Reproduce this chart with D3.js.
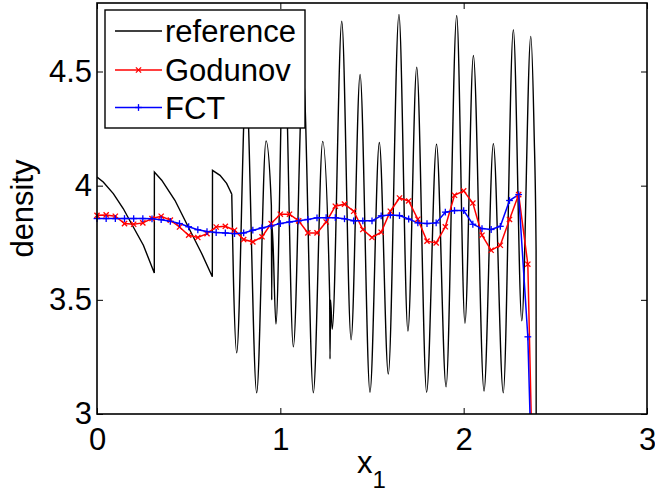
<!DOCTYPE html>
<html>
<head>
<meta charset="utf-8">
<script src="https://cdn.jsdelivr.net/npm/d3@7"></script>
<style>
  body { margin: 0; background: #fff; }
  svg { display: block; font-family: "Liberation Sans", Arial, Helvetica, sans-serif; }
</style>
</head>
<body>
<div id="chart"></div>
<script>
// sample positions of the two schemes (dx = 0.05)
const sampleX = [0, 0.05, 0.1, 0.15, 0.2, 0.25, 0.3, 0.35, 0.4, 0.45, 0.5, 0.55, 0.6, 0.65,
  0.7, 0.75, 0.8, 0.85, 0.9, 0.95, 1, 1.05, 1.1, 1.15, 1.2, 1.25, 1.3, 1.35, 1.4, 1.45,
  1.5, 1.55, 1.6, 1.65, 1.7, 1.75, 1.8, 1.85, 1.9, 1.95, 2, 2.05, 2.1, 2.15, 2.2, 2.25,
  2.3, 2.35, 2.4];

const godunov = [3.870, 3.872, 3.866, 3.834, 3.831, 3.837, 3.856, 3.866, 3.849, 3.819,
  3.783, 3.773, 3.790, 3.819, 3.822, 3.805, 3.764, 3.754, 3.776, 3.834,
  3.875, 3.875, 3.846, 3.793, 3.793, 3.841, 3.910, 3.919, 3.888, 3.808,
  3.773, 3.796, 3.888, 3.946, 3.933, 3.853, 3.757, 3.749, 3.820, 3.958,
  3.977, 3.924, 3.783, 3.717, 3.739, 3.852, 3.961, 3.656, 1.85];

const fct = [3.856, 3.856, 3.856, 3.856, 3.856, 3.856, 3.855, 3.851, 3.844, 3.834,
  3.820, 3.807, 3.799, 3.795, 3.793, 3.790, 3.793, 3.805, 3.815, 3.824,
  3.834, 3.841, 3.846, 3.852, 3.859, 3.860, 3.860, 3.855, 3.846, 3.846,
  3.846, 3.868, 3.871, 3.869, 3.854, 3.837, 3.834, 3.837, 3.884, 3.891,
  3.891, 3.831, 3.812, 3.808, 3.822, 3.935, 3.961, 3.338, 1.9];

// reference solution: saw-tooth part (straight pieces) ...
const refSaw = [
  [0, 4.038], [0.034, 4.016], [0.089, 3.965], [0.143, 3.900], [0.198, 3.819],
  [0.253, 3.739], [0.3125, 3.618],
  [0.313, 4.060], [0.353, 4.024], [0.425, 3.936], [0.498, 3.819], [0.571, 3.703],
  [0.629, 3.601],
  [0.630, 4.067], [0.671, 4.045], [0.707, 4.010], [0.725, 3.980], [0.735, 3.963]
];

// ... and its oscillating part (extrema, smoothed by the curve)
const refWave = [
  [0.735, 3.963], [0.744, 3.60], [0.762, 3.268], [0.813, 4.45], [0.871, 3.093],
  [0.922, 4.196], [0.951, 3.914], [0.953, 3.499], [0.955, 3.827], [0.976, 3.394],
  [1.020, 4.70], [1.071, 3.294], [1.124, 4.50], [1.180, 3.093], [1.231, 4.194],
  [1.269, 3.521], [1.271, 3.241], [1.274, 3.499], [1.283, 3.371], [1.335, 4.720],
  [1.386, 3.325], [1.435, 4.487], [1.489, 3.095], [1.540, 4.189], [1.589, 3.175],
  [1.647, 4.750], [1.696, 3.363], [1.744, 4.519], [1.798, 3.095], [1.852, 4.182],
  [1.904, 3.119], [1.962, 4.745], [2.007, 3.397], [2.053, 4.570], [2.111, 3.100],
  [2.162, 4.184], [2.216, 3.093], [2.271, 4.683], [2.317, 3.408], [2.366, 4.654],
  [2.384, 4.242], [2.395, 3.717], [2.396, 2.19]
];

const xTicks = [0, 1, 2, 3];
const yTicks = [3, 3.5, 4, 4.5];
const legendItems = ['reference', 'Godunov', 'FCT'];

const width = 655;
const height = 493;
const fontSize = 31;

const x = d3.scaleLinear().domain([0, 3]).range([97, 647]);
const y = d3.scaleLinear().domain([3, 4.8]).range([414, 3]);

const svg = d3.select('#chart').append('svg')
  .attr('width', width)
  .attr('height', height);

svg.append('defs').append('clipPath').attr('id', 'plot-clip')
  .append('rect')
  .attr('x', x(0)).attr('y', y(4.8))
  .attr('width', x(3) - x(0)).attr('height', y(3) - y(4.8));

const plot = svg.append('g').attr('clip-path', 'url(#plot-clip)');

const line = d3.line().x(d => x(d[0])).y(d => y(d[1]));

plot.append('path')
  .attr('d', line.curve(d3.curveLinear)(refSaw))
  .attr('fill', 'none').attr('stroke', '#000').attr('stroke-width', 1.4);

plot.append('path')
  .attr('d', line.curve(d3.curveMonotoneX)(refWave))
  .attr('fill', 'none').attr('stroke', '#000').attr('stroke-width', 1.4);

const inView = d => d[1] >= 3 && d[1] <= 4.8;

// draws a marker ('x' or '+') centered on cx, cy
const marker = (g, cx, cy, type, color) => {
  const s = type === 'x' ? 2.6 : 3.4;
  const segs = type === 'x'
    ? [[-s, -s, s, s], [-s, s, s, -s]]
    : [[-s, 0, s, 0], [0, -s, 0, s]];
  segs.forEach(q => {
    g.append('line')
      .attr('x1', cx + q[0]).attr('y1', cy + q[1])
      .attr('x2', cx + q[2]).attr('y2', cy + q[3])
      .attr('stroke', color).attr('stroke-width', 1.3);
  });
};

const series = [
  { values: godunov, color: '#ff0000', type: 'x' },
  { values: fct, color: '#0000ff', type: '+' },
];

series.forEach(s => {
  const pts = sampleX.map((v, i) => [v, s.values[i]]);
  plot.append('path')
    .attr('d', line.curve(d3.curveLinear)(pts))
    .attr('fill', 'none').attr('stroke', s.color).attr('stroke-width', 1.5);
  const mg = svg.append('g');
  pts.filter(inView).forEach(d => marker(mg, x(d[0]), y(d[1]), s.type, s.color));
});

// axes, ticks point inward on all four sides
const styleAxis = g => {
  g.select('.domain').remove();
  g.selectAll('.tick line').attr('stroke', '#000').attr('stroke-width', 1);
  g.selectAll('text')
    .attr('font-size', fontSize)
    .attr('font-family', '"Liberation Sans", Arial, Helvetica, sans-serif')
    .attr('fill', '#000');
};

svg.append('g').attr('transform', `translate(0,${y(3)})`)
  .call(d3.axisBottom(x).tickValues(xTicks).tickSize(-6).tickPadding(14).tickFormat(d => d))
  .call(styleAxis);

svg.append('g').attr('transform', `translate(0,${y(4.8)})`)
  .call(d3.axisTop(x).tickValues(xTicks).tickSize(-6).tickFormat(''))
  .call(styleAxis);

svg.append('g').attr('transform', `translate(${x(0)},0)`)
  .call(d3.axisLeft(y).tickValues(yTicks).tickSize(-6).tickPadding(5).tickFormat(d => d))
  .call(styleAxis);

svg.append('g').attr('transform', `translate(${x(3)},0)`)
  .call(d3.axisRight(y).tickValues(yTicks).tickSize(-6).tickFormat(''))
  .call(styleAxis);

svg.append('rect')
  .attr('x', x(0)).attr('y', y(4.8))
  .attr('width', x(3) - x(0)).attr('height', y(3) - y(4.8))
  .attr('fill', 'none').attr('stroke', '#000').attr('stroke-width', 1.6);

// axis labels
const xLabel = svg.append('text')
  .attr('x', 357).attr('y', 473)
  .attr('font-size', fontSize);
xLabel.append('tspan').text('x');
xLabel.append('tspan').attr('dy', 15).attr('font-size', 24).text('1');

svg.append('text')
  .attr('transform', `translate(33,${(y(3) + y(4.8)) / 2}) rotate(-90)`)
  .attr('text-anchor', 'middle')
  .attr('font-size', fontSize)
  .text('density');

// legend
const legend = svg.append('g');
legend.append('rect')
  .attr('x', 105).attr('y', 10).attr('width', 200).attr('height', 118)
  .attr('fill', '#fff').attr('stroke', '#000').attr('stroke-width', 1.4);

const rowY = [31, 70, 107.5];
const legendStyle = [
  { color: '#000', type: null, w: 1.4 },
  { color: '#ff0000', type: 'x', w: 1.5 },
  { color: '#0000ff', type: '+', w: 1.5 },
];

legendItems.forEach((name, i) => {
  const st = legendStyle[i];
  legend.append('line')
    .attr('x1', 115).attr('x2', 162)
    .attr('y1', rowY[i]).attr('y2', rowY[i])
    .attr('stroke', st.color).attr('stroke-width', st.w);
  if (st.type) marker(legend, 138.5, rowY[i], st.type, st.color);
  legend.append('text')
    .attr('x', 165).attr('y', rowY[i] + 11)
    .attr('font-size', fontSize)
    .text(name);
});
</script>
</body>
</html>
